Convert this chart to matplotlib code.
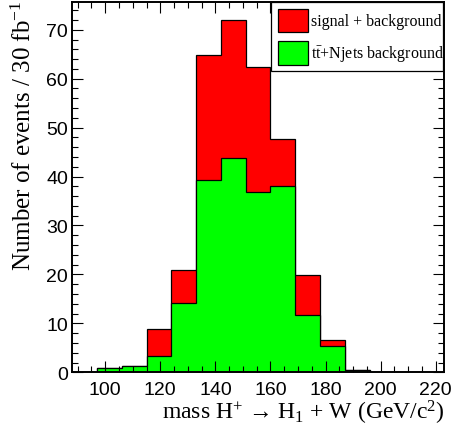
import numpy as np
import matplotlib
matplotlib.use("Agg")
import matplotlib.pyplot as plt
from matplotlib.patches import Patch
from matplotlib.ticker import MultipleLocator

# ------------------------------ DATA ------------------------------ #

# bin edges of the reconstructed mass (GeV/c^2), 9 GeV wide
mass_edges = [88, 97, 106, 115, 124, 133, 142, 151, 160, 169, 178, 187, 196, 205, 214, 223]

# stacked total (signal + background) and background only, events / 30 fb^-1
signal_plus_bkg = [0, 0.8, 1.2, 8.8, 20.9, 64.9, 72.0, 62.4, 47.6, 19.8, 6.7, 0.4, 0, 0, 0]
ttbar_bkg       = [0, 0.8, 1.2, 3.3, 14.1, 39.2, 43.8, 36.8, 38.0, 11.8, 5.4, 0.4, 0, 0, 0]

legend_labels = ["signal + background", r"$\mathrm{t\bar{t}}$+Njets background"]
x_ticks = [100, 120, 140, 160, 180, 200, 220]
y_ticks = [0, 10, 20, 30, 40, 50, 60, 70]

# ------------------------------ STYLE ------------------------------ #

plt.rcParams['font.family'] = ['Liberation Sans', 'DejaVu Sans']
plt.rcParams['mathtext.fontset'] = 'custom'
plt.rcParams['mathtext.rm'] = 'Liberation Serif'
plt.rcParams['mathtext.it'] = 'Liberation Serif:italic'
serif = ['Liberation Serif', 'DejaVu Serif']

fig = plt.figure(figsize=(4.51, 4.35), dpi=100)
ax = fig.add_axes([0.160, 0.1418, 0.8245, 0.8506])

ax.stairs(signal_plus_bkg, mass_edges, fill=True, facecolor="#ff0000",
          edgecolor="black", linewidth=0.9)
ax.stairs(ttbar_bkg, mass_edges, fill=True, facecolor="#00ff00",
          edgecolor="black", linewidth=0.9)

ax.set_xlim(mass_edges[0], mass_edges[-1])
ax.set_ylim(0, max(signal_plus_bkg) * 1.05)

ax.set_xticks(x_ticks)
ax.set_yticks(y_ticks)
ax.xaxis.set_minor_locator(MultipleLocator(5))
ax.yaxis.set_minor_locator(MultipleLocator(2))
ax.tick_params(which="major", direction="in", top=True, right=True,
               width=0.8, length=8)
ax.tick_params(which="minor", direction="in", top=True, right=True,
               width=0.8, length=4.2)
ax.tick_params(axis="x", labelsize=14, pad=6)
ax.tick_params(axis="y", labelsize=14, pad=3)
for s in ax.spines.values():
    s.set_linewidth(1.4)

fig.text(0.986, 0.0345, r"mass H$^{+}$ → H$_{1}$ + W (GeV/c$^{2}$)",
         ha="right", va="baseline", fontsize=17, family=serif)
fig.text(0.053, 0.999, r"Number of events / 30 fb$^{-1}$",
         rotation=90, ha="center", va="top", fontsize=18, family=serif)

handles = [Patch(facecolor="#ff0000", edgecolor="black", linewidth=0.9),
           Patch(facecolor="#00ff00", edgecolor="black", linewidth=0.9)]
leg = ax.legend(handles, legend_labels, loc="upper left",
                bbox_to_anchor=(0.536, 0.817, 0.46, 0.183), mode="expand",
                borderaxespad=0, fancybox=False, framealpha=1, edgecolor="black",
                prop={'family': serif, 'size': 11.5}, handlelength=1.9,
                handleheight=1.85, handletextpad=0.2, labelspacing=0.6,
                borderpad=0.4)
leg.get_frame().set_linewidth(0.9)

plt.savefig("out.png", dpi=100)
